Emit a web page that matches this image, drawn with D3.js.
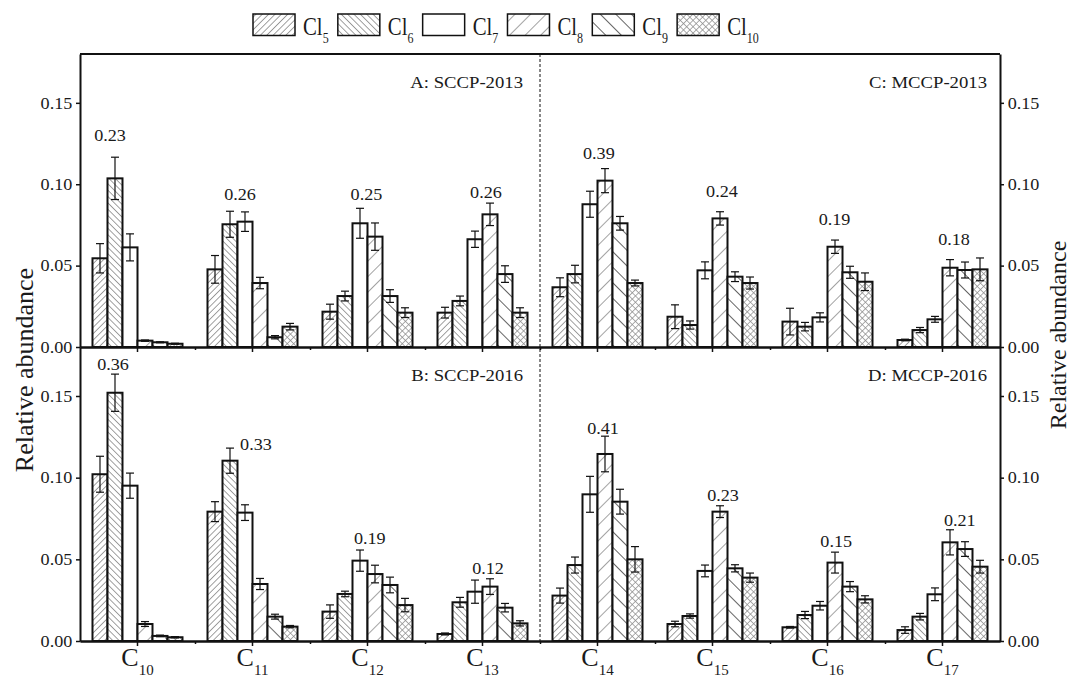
<!DOCTYPE html>
<meta charset="utf-8">
<style>
  body { margin: 0; background: #fff; }
  svg text { font-family: "Liberation Serif", "Times New Roman", serif; fill: #1a1a1a; }
  .axis .domain { stroke: #111; stroke-width: 2; }
  .axis .tick line { stroke: #111; stroke-width: 1.5; }
</style>
<body>
<div id="chart"></div>
<script src="https://d3js.org/d3.v7.min.js"></script>
<script>
  // carbon chain groups and chlorine homologues
  const chains = [10, 11, 12, 13, 14, 15, 16, 17];
  const chlorines = [5, 6, 7, 8, 9, 10];

  // relative abundance, one row per chain (Cl5..Cl10)
  const values2013 = [
    [0.0545, 0.1036, 0.0612, 0.0039, 0.0029, 0.0020],
    [0.0477, 0.0754, 0.0770, 0.0393, 0.0060, 0.0125],
    [0.0217, 0.0313, 0.0760, 0.0678, 0.0313, 0.0211],
    [0.0211, 0.0283, 0.0662, 0.0815, 0.0448, 0.0211],
    [0.0367, 0.0448, 0.0877, 0.1022, 0.0760, 0.0393],
    [0.0186, 0.0135, 0.0471, 0.0790, 0.0432, 0.0393],
    [0.0156, 0.0125, 0.0182, 0.0616, 0.0459, 0.0401],
    [0.0043, 0.0104, 0.0170, 0.0487, 0.0473, 0.0477]
  ];
  const errors2013 = [
    [0.0090, 0.0130, 0.0083, 0.0004, 0.0003, 0.0003],
    [0.0085, 0.0080, 0.0060, 0.0035, 0.0010, 0.0020],
    [0.0046, 0.0030, 0.0092, 0.0084, 0.0039, 0.0030],
    [0.0033, 0.0030, 0.0050, 0.0069, 0.0051, 0.0030],
    [0.0058, 0.0054, 0.0080, 0.0074, 0.0042, 0.0018],
    [0.0073, 0.0025, 0.0052, 0.0041, 0.0030, 0.0037],
    [0.0082, 0.0026, 0.0028, 0.0041, 0.0037, 0.0054],
    [0.0005, 0.0016, 0.0018, 0.0050, 0.0049, 0.0070]
  ];
  const values2016 = [
    [0.1021, 0.1520, 0.0951, 0.0104, 0.0031, 0.0023],
    [0.0792, 0.1104, 0.0786, 0.0349, 0.0149, 0.0088],
    [0.0180, 0.0288, 0.0492, 0.0410, 0.0343, 0.0220],
    [0.0043, 0.0237, 0.0302, 0.0333, 0.0204, 0.0108],
    [0.0278, 0.0465, 0.0898, 0.1145, 0.0853, 0.0500],
    [0.0104, 0.0153, 0.0429, 0.0792, 0.0445, 0.0388],
    [0.0084, 0.0159, 0.0216, 0.0480, 0.0333, 0.0255],
    [0.0067, 0.0149, 0.0286, 0.0604, 0.0563, 0.0455]
  ];
  const errors2016 = [
    [0.0110, 0.0114, 0.0077, 0.0015, 0.0005, 0.0004],
    [0.0061, 0.0077, 0.0048, 0.0034, 0.0015, 0.0007],
    [0.0041, 0.0017, 0.0065, 0.0054, 0.0048, 0.0041],
    [0.0006, 0.0030, 0.0071, 0.0048, 0.0026, 0.0016],
    [0.0046, 0.0049, 0.0110, 0.0109, 0.0076, 0.0078],
    [0.0017, 0.0013, 0.0036, 0.0036, 0.0022, 0.0028],
    [0.0005, 0.0022, 0.0026, 0.0064, 0.0031, 0.0022],
    [0.0020, 0.0020, 0.0039, 0.0077, 0.0045, 0.0039]
  ];

  // group totals written above each cluster (position in bar units, height in data units)
  const totals2013 = ["0.23", "0.26", "0.25", "0.26", "0.39", "0.24", "0.19", "0.18"];
  const totalPos2013 = [0.67, 1.67, 2.43, 2.73, 2.59, 3.13, 2.97, 3.27];
  const totalY2013 = [0.130, 0.094, 0.094, 0.095, 0.119, 0.0954, 0.0784, 0.0662];
  const totals2016 = ["0.36", "0.33", "0.19", "0.12", "0.41", "0.23", "0.15", "0.21"];
  const totalPos2016 = [0.87, 2.73, 2.65, 2.87, 2.87, 3.2, 3.08, 3.65];
  const totalY2016 = [0.1696, 0.1204, 0.0632, 0.0445, 0.1302, 0.089, 0.0608, 0.0741];

  const yTicks = [0, 0.05, 0.10, 0.15];

  const width = 1072, height = 678;
  const svg = d3.select("#chart").append("svg")
    .attr("width", width).attr("height", height);

  const x = d3.scaleBand().domain(chains).range([80, 1000]);
  const xs = d3.scaleBand().domain(chlorines).range([0, x.bandwidth()]).paddingOuter(0.833);
  const yTop = d3.scaleLinear().domain([0, 0.18]).range([347, 54]);
  const yBot = d3.scaleLinear().domain([0, 0.18]).range([641, 347]);

  // hatch patterns
  const defs = svg.append("defs");
  function hatch(id, step, angle, color, w, cross) {
    const p = defs.append("pattern").attr("id", id)
      .attr("patternUnits", "userSpaceOnUse")
      .attr("width", step).attr("height", step)
      .attr("patternTransform", `rotate(${angle})`);
    p.append("rect").attr("width", step).attr("height", step).attr("fill", "#fff");
    p.append("line").attr("x1", step / 2).attr("x2", step / 2).attr("y1", 0).attr("y2", step)
      .attr("stroke", color).attr("stroke-width", w);
    if (cross) {
      p.append("line").attr("y1", step / 2).attr("y2", step / 2).attr("x1", 0).attr("x2", step)
        .attr("stroke", color).attr("stroke-width", w);
    }
  }
  hatch("p5", 4.5, 45, "#8a8a8a", 0.8);
  hatch("p6", 4.5, -45, "#8a8a8a", 0.8);
  hatch("p8", 11, 45, "#999", 0.9);
  hatch("p9", 11, -45, "#555", 0.9);
  hatch("p10", 4.5, 45, "#8a8a8a", 0.7, true);
  const fillFor = n => n === 7 ? "#fff" : `url(#p${n})`;

  function panel(values, errors, y) {
    const g = svg.append("g");
    const groups = g.selectAll("g.grp")
      .data(chains)
      .join("g")
      .attr("transform", d => `translate(${x(d)},0)`);

    groups.selectAll("rect")
      .data((d, i) => chlorines.map((c, j) => ({ c, v: values[i][j], e: errors[i][j] })))
      .join("rect")
      .attr("x", d => xs(d.c))
      .attr("width", xs.bandwidth())
      .attr("y", d => y(d.v))
      .attr("height", d => y(0) - y(d.v))
      .attr("fill", d => fillFor(d.c))
      .attr("stroke", "#111")
      .attr("stroke-width", 2);

    const eb = groups.selectAll("g.err")
      .data((d, i) => chlorines.map((c, j) => ({ c, v: values[i][j], e: errors[i][j] })))
      .join("g")
      .attr("class", "err")
      .attr("transform", d => `translate(${xs(d.c) + xs.bandwidth() / 2},0)`)
      .attr("stroke", "#111").attr("stroke-width", 1.2);
    eb.append("line").attr("y1", d => y(d.v - d.e)).attr("y2", d => y(d.v + d.e));
    eb.append("line").attr("x1", -4).attr("x2", 4).attr("y1", d => y(d.v + d.e)).attr("y2", d => y(d.v + d.e));
    eb.append("line").attr("x1", -4).attr("x2", 4).attr("y1", d => y(d.v - d.e)).attr("y2", d => y(d.v - d.e));
  }
  panel(values2013, errors2013, yTop);
  panel(values2016, errors2016, yBot);

  function totals(labels, pos, ys, y) {
    svg.append("g").selectAll("text")
      .data(chains)
      .join("text")
      .attr("transform", (d, i) =>
        `translate(${x(d) + xs(chlorines[0]) + (pos[i] + 0.5) * xs.bandwidth()},${y(ys[i])}) scale(1.1,1)`)
      .attr("text-anchor", "middle")
      .attr("dy", "0.35em")
      .attr("font-size", 16.5)
      .text((d, i) => labels[i]);
  }
  totals(totals2013, totalPos2013, totalY2013, yTop);
  totals(totals2016, totalPos2016, totalY2016, yBot);

  // divider between SCCP and MCCP
  svg.append("line")
    .attr("x1", x(14)).attr("x2", x(14))
    .attr("y1", yTop.range()[1]).attr("y2", yBot.range()[0])
    .attr("stroke", "#111").attr("stroke-width", 1)
    .attr("stroke-dasharray", "3,2");

  // y axes
  const fmt = d3.format(".2f");
  function styleAxis(g) {
    g.attr("font-size", null).attr("font-family", null).attr("class", "axis");
    g.selectAll("text").attr("font-size", 16.5).attr("transform", "scale(1.1,1)");
  }
  [yTop, yBot].forEach(y => {
    svg.append("g").attr("transform", "translate(80,0)")
      .call(d3.axisLeft(y).tickValues(yTicks).tickFormat(fmt).tickSize(4).tickSizeOuter(0).tickPadding(3))
      .call(styleAxis);
    svg.append("g").attr("transform", "translate(1000,0)")
      .call(d3.axisRight(y).tickValues(yTicks).tickFormat(fmt).tickSize(4).tickSizeOuter(0).tickPadding(3))
      .call(styleAxis);
  });

  // x axes: major ticks at chain centres, minor ticks at group borders
  const xEdge = d3.scaleLinear().domain([0, chains.length]).range(x.range());
  [yTop, yBot].forEach(y => {
    svg.append("g").attr("transform", `translate(0,${y(0)})`)
      .call(d3.axisBottom(xEdge).tickValues(d3.range(1, chains.length)).tickSize(3).tickSizeOuter(0).tickFormat(""))
      .call(styleAxis);
    svg.append("g").attr("transform", `translate(0,${y(0)})`)
      .call(d3.axisBottom(x).tickSize(5).tickSizeOuter(0).tickFormat(""))
      .call(styleAxis);
  });
  svg.append("line")
    .attr("x1", 80).attr("x2", 1000)
    .attr("y1", yTop.range()[1]).attr("y2", yTop.range()[1])
    .attr("stroke", "#111").attr("stroke-width", 2);

  // chain labels C10..C17
  const xl = svg.append("g").selectAll("text")
    .data(chains)
    .join("text")
    .attr("x", d => x(d) + x.bandwidth() / 2)
    .attr("y", 666)
    .attr("text-anchor", "middle");
  xl.append("tspan").attr("font-size", 26).text("C");
  xl.append("tspan").attr("font-size", 15).attr("dy", 9).text(d => d);

  // panel names
  const panelNames = [
    { t: "A: SCCP-2013", c: 13, y: yTop, dx: -17 },
    { t: "C: MCCP-2013", c: 17, y: yTop, dx: -13 },
    { t: "B: SCCP-2016", c: 13, y: yBot, dx: -17 },
    { t: "D: MCCP-2016", c: 17, y: yBot, dx: -13 }
  ];
  svg.append("g").selectAll("text")
    .data(panelNames)
    .join("text")
    .attr("transform", d => `translate(${x(d.c) + x.bandwidth() + d.dx},${d.y.range()[1] + 28}) scale(1.1,1)`)
    .attr("text-anchor", "end")
    .attr("dy", "0.35em")
    .attr("font-size", 17)
    .text(d => d.t);

  // axis titles
  svg.append("text")
    .attr("transform", "translate(33,370) rotate(-90)")
    .attr("text-anchor", "middle")
    .attr("font-size", 26)
    .text("Relative abundance");
  svg.append("text")
    .attr("transform", "translate(1066,335) rotate(-90)")
    .attr("text-anchor", "middle")
    .attr("font-size", 24)
    .text("Relative abundance");

  // legend
  const legend = svg.append("g");
  let lx = 253;
  chlorines.forEach(n => {
    const item = legend.append("g").attr("transform", `translate(${lx},14)`);
    item.append("rect")
      .attr("width", 42).attr("height", 21.5)
      .attr("fill", fillFor(n))
      .attr("stroke", "#111").attr("stroke-width", 1.5);
    const t = item.append("text")
      .attr("transform", "translate(50,21) scale(0.8,1)")
      .attr("font-size", 26);
    t.append("tspan").text("Cl");
    t.append("tspan").attr("font-size", 15).attr("dy", 8).text(n);
    lx += 50 + t.node().getBBox().width * 0.8 + 9;
  });
</script>
</body>
